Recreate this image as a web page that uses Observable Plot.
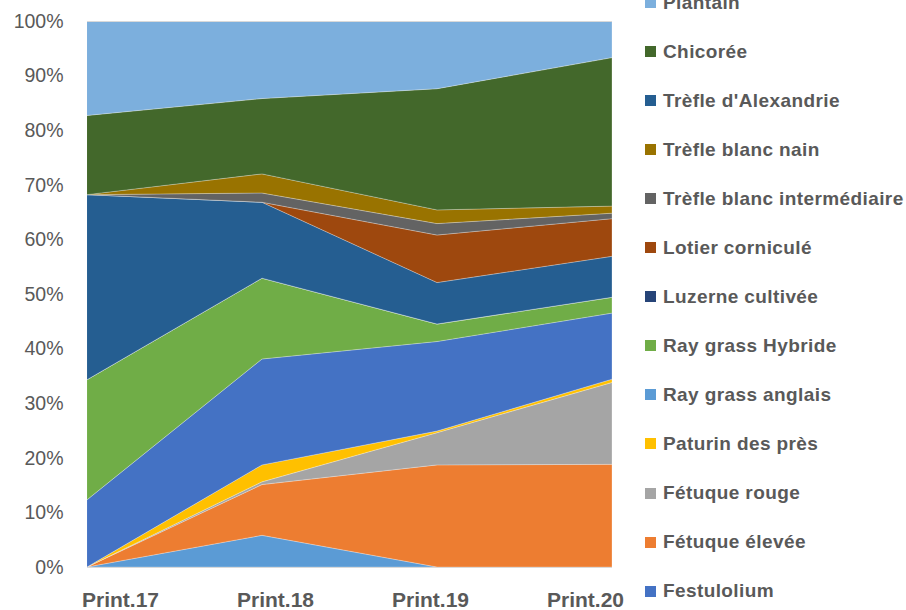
<!DOCTYPE html>
<html>
<head>
<meta charset="utf-8">
<script src="https://cdn.jsdelivr.net/npm/d3@7"></script>
<script src="https://cdn.jsdelivr.net/npm/@observablehq/plot@0.6"></script>
<style>
  body { margin: 0; background: #fff; font-family: "Liberation Sans", Arial, sans-serif; }
  #wrap { position: relative; width: 906px; height: 610px; overflow: hidden; }
  #main, #xlab { position: absolute; left: 0; }
  #main { top: 0; }
  #xlab { top: 567px; }
  #legend { position: absolute; left: 645px; top: 0; }
  .item { position: absolute; left: 0; height: 22px; display: flex; align-items: center; white-space: nowrap;
          font-weight: bold; font-size: 19px; color: #595959; letter-spacing: 0.4px; }
  .sw { width: 11px; height: 11px; margin-right: 7px; flex: none; }
</style>
</head>
<body>
<div id="wrap">
  <div id="main"></div>
  <div id="xlab"></div>
  <div id="legend"></div>
</div>
<script>
// Categories (x)
const prints = ["Print.17", "Print.18", "Print.19", "Print.20"];

// Series values (% of composition) per print
const rayGrassAnglais      = [0,    5.8,  0,    0];
const fetuqueElevee        = [0,    9.3,  18.7, 18.8];
const fetuqueRouge         = [0,    0.5,  5.9,  15.0];
const paturinDesPres       = [0,    3.1,  0.3,  0.6];
const festulolium          = [12.3, 19.4, 16.4, 12.1];
const rayGrassHybride      = [22.0, 14.8, 3.2,  2.9];
const luzerneCultivee      = [0,    0,    0,    0];
const trefleAlexandrie     = [33.9, 13.9, 7.6,  7.5];
const lotierCornicule      = [0,    0,    8.7,  6.9];
const trefleBlancInter     = [0,    1.7,  2.1,  1.0];
const trefleBlancNain      = [0,    3.5,  2.5,  1.3];
const chicoree             = [14.5, 13.8, 22.2, 27.2];
const plantain             = [17.3, 14.2, 12.4, 6.7];

// Series names
const seriesNames = [
  "Ray grass anglais", "Fétuque élevée", "Fétuque rouge", "Paturin des près",
  "Festulolium", "Ray grass Hybride", "Luzerne cultivée", "Trèfle d'Alexandrie",
  "Lotier corniculé", "Trèfle blanc intermédiaire", "Trèfle blanc nain",
  "Chicorée", "Plantain"
];
const seriesValues = [
  rayGrassAnglais, fetuqueElevee, fetuqueRouge, paturinDesPres,
  festulolium, rayGrassHybride, luzerneCultivee, trefleAlexandrie,
  lotierCornicule, trefleBlancInter, trefleBlancNain, chicoree, plantain
];
const seriesColors = [
  "#5B9BD5", "#ED7D31", "#A5A5A5", "#FFC000",
  "#4472C4", "#70AD47", "#264478", "#255E91",
  "#9E480E", "#636363", "#997300", "#43682B", "#7CAFDD"
];

// Legend order (top to bottom)
const legendOrder = [
  "Plantain", "Chicorée", "Trèfle d'Alexandrie", "Trèfle blanc nain",
  "Trèfle blanc intermédiaire", "Lotier corniculé", "Luzerne cultivée",
  "Ray grass Hybride", "Ray grass anglais", "Paturin des près",
  "Fétuque rouge", "Fétuque élevée", "Festulolium"
];

// Y ticks
const yTicks = [0, 10, 20, 30, 40, 50, 60, 70, 80, 90, 100];

// Build tidy table
const rows = [];
seriesNames.forEach((name, si) => {
  prints.forEach((p, pi) => rows.push({print: p, species: name, value: seriesValues[si][pi]}));
});

const font = "Liberation Sans, Arial, sans-serif";

const chart = Plot.plot({
  width: 906,
  height: 610,
  marginLeft: 87,
  marginRight: 294,
  marginTop: 21,
  marginBottom: 43,
  style: {fontFamily: font, background: "transparent"},
  x: {type: "point", domain: prints, padding: 0, axis: null},
  y: {domain: [0, 100], axis: null},
  color: {domain: seriesNames, range: seriesColors},
  marks: [
    Plot.areaY(rows, {
      x: "print", y: "value", z: "species", fill: "species",
      order: seriesNames,
      stroke: "#ffffff", strokeOpacity: 0.45, strokeWidth: 0.6
    }),
    Plot.ruleY([0, 100], {stroke: "#D9D9D9", strokeWidth: 1}),
    Plot.axisY({
      ticks: yTicks, tickFormat: d => d + "%", tickSize: 0, tickPadding: 24,
      fontSize: 19.5, fill: "#595959", label: null
    })
  ]
});
document.getElementById("main").appendChild(chart);

const xlab = Plot.plot({
  width: 906,
  height: 43,
  margin: 0,
  style: {fontFamily: font, background: "transparent"},
  x: {type: "point", domain: prints, range: [120, 585], padding: 0, axis: null},
  marks: [
    Plot.text(prints, {
      x: d => d, text: d => d, frameAnchor: "middle", dy: 11,
      fontSize: 21, fontWeight: "bold", fill: "#595959"
    })
  ]
});
document.getElementById("xlab").appendChild(xlab);

// Legend
const colorOf = new Map(seriesNames.map((n, i) => [n, seriesColors[i]]));
const legend = document.getElementById("legend");
legendOrder.forEach((name, i) => {
  const cy = 2.5 + 49.05 * i;
  const item = document.createElement("div");
  item.className = "item";
  item.style.top = (cy - 11) + "px";
  const sw = document.createElement("span");
  sw.className = "sw";
  sw.style.background = colorOf.get(name);
  const tx = document.createElement("span");
  tx.textContent = name;
  item.appendChild(sw);
  item.appendChild(tx);
  legend.appendChild(item);
});
</script>
</body>
</html>
